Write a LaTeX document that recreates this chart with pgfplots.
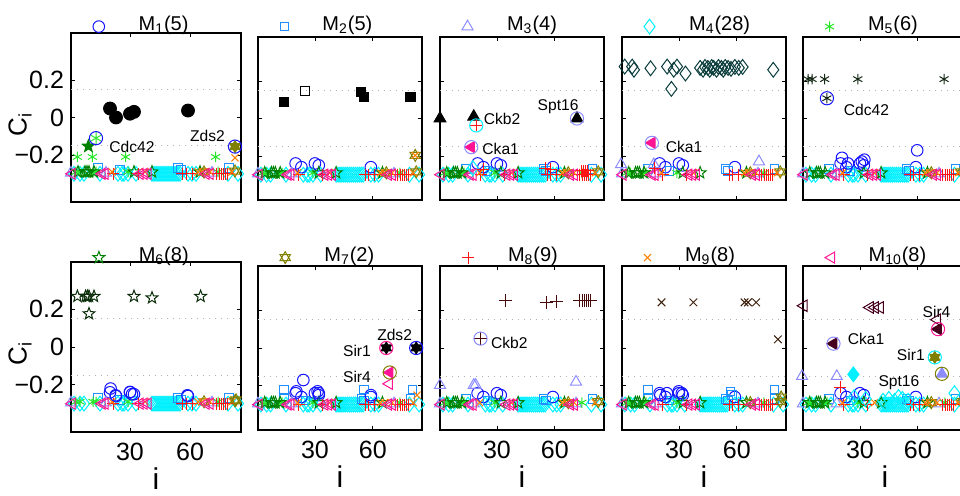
\documentclass[border=0pt]{standalone}
\usepackage{pgfplots}
\pgfplotsset{compat=1.18}
\usepackage{pgfplotstable}
\usepackage{fontspec}
\setmainfont{Liberation Sans}
\usetikzlibrary{plotmarks}

\definecolor{c1}{RGB}{20,20,255}
\definecolor{c2}{RGB}{30,144,255}
\definecolor{c3}{RGB}{140,140,255}
\definecolor{c4}{RGB}{0,240,255}
\definecolor{c5}{RGB}{40,230,40}
\definecolor{c6}{RGB}{0,128,0}
\definecolor{c7}{RGB}{128,128,0}
\definecolor{c8}{RGB}{255,20,20}
\definecolor{c9}{RGB}{255,128,0}
\definecolor{c10}{RGB}{255,20,147}

\pgfdeclareplotmark{pentagram}{%
 \pgfpathmoveto{\pgfpointpolar{90}{\pgfplotmarksize}}%
 \pgfpathlineto{\pgfpointpolar{126}{0.42\pgfplotmarksize}}%
 \pgfpathlineto{\pgfpointpolar{162}{\pgfplotmarksize}}%
 \pgfpathlineto{\pgfpointpolar{198}{0.42\pgfplotmarksize}}%
 \pgfpathlineto{\pgfpointpolar{234}{\pgfplotmarksize}}%
 \pgfpathlineto{\pgfpointpolar{270}{0.42\pgfplotmarksize}}%
 \pgfpathlineto{\pgfpointpolar{306}{\pgfplotmarksize}}%
 \pgfpathlineto{\pgfpointpolar{342}{0.42\pgfplotmarksize}}%
 \pgfpathlineto{\pgfpointpolar{18}{\pgfplotmarksize}}%
 \pgfpathlineto{\pgfpointpolar{54}{0.42\pgfplotmarksize}}%
 \pgfpathclose\pgfusepathqstroke}
\pgfdeclareplotmark{pentagram*}{%
 \pgfpathmoveto{\pgfpointpolar{90}{\pgfplotmarksize}}%
 \pgfpathlineto{\pgfpointpolar{126}{0.42\pgfplotmarksize}}%
 \pgfpathlineto{\pgfpointpolar{162}{\pgfplotmarksize}}%
 \pgfpathlineto{\pgfpointpolar{198}{0.42\pgfplotmarksize}}%
 \pgfpathlineto{\pgfpointpolar{234}{\pgfplotmarksize}}%
 \pgfpathlineto{\pgfpointpolar{270}{0.42\pgfplotmarksize}}%
 \pgfpathlineto{\pgfpointpolar{306}{\pgfplotmarksize}}%
 \pgfpathlineto{\pgfpointpolar{342}{0.42\pgfplotmarksize}}%
 \pgfpathlineto{\pgfpointpolar{18}{\pgfplotmarksize}}%
 \pgfpathlineto{\pgfpointpolar{54}{0.42\pgfplotmarksize}}%
 \pgfpathclose\pgfusepathqfillstroke}
\pgfdeclareplotmark{hexagram}{%
 \pgfpathmoveto{\pgfpointpolar{90}{\pgfplotmarksize}}%
 \pgfpathlineto{\pgfpointpolar{210}{\pgfplotmarksize}}%
 \pgfpathlineto{\pgfpointpolar{330}{\pgfplotmarksize}}%
 \pgfpathclose
 \pgfpathmoveto{\pgfpointpolar{270}{\pgfplotmarksize}}%
 \pgfpathlineto{\pgfpointpolar{30}{\pgfplotmarksize}}%
 \pgfpathlineto{\pgfpointpolar{150}{\pgfplotmarksize}}%
 \pgfpathclose\pgfusepathqstroke}
\pgfdeclareplotmark{hexagram*}{%
 \pgfpathmoveto{\pgfpointpolar{90}{\pgfplotmarksize}}%
 \pgfpathlineto{\pgfpointpolar{210}{\pgfplotmarksize}}%
 \pgfpathlineto{\pgfpointpolar{330}{\pgfplotmarksize}}%
 \pgfpathclose
 \pgfpathmoveto{\pgfpointpolar{270}{\pgfplotmarksize}}%
 \pgfpathlineto{\pgfpointpolar{30}{\pgfplotmarksize}}%
 \pgfpathlineto{\pgfpointpolar{150}{\pgfplotmarksize}}%
 \pgfpathclose\pgfusepathqfillstroke}

\newcommand{\tickf}{\fontsize{12.5}{14}\selectfont}
\newcommand{\ttlf}{\fontsize{10}{12}\selectfont}
\newcommand{\labf}{\fontsize{7.8}{9}\selectfont}
\newcommand{\ylabf}{\fontsize{13}{15}\selectfont}
\newcommand{\xlabf}{\fontsize{15}{17}\selectfont}

% baseline values of every module (x = protein index i, y = C_i)
\pgfplotstableread{
x y
20 -0.24
23 -0.26
30 -0.24
32 -0.25
59 -0.26
}\Bone
\pgfplotstableread{
x y
14 -0.27
25 -0.28
54 -0.27
55.5 -0.28
79.5 -0.27
}\Btwo
\pgfplotstableread{
x y
0.5 -0.295
18 -0.295
71 -0.295
}\Bthree
\pgfplotstableread{
x y
2 -0.3
5 -0.3
7 -0.3
15 -0.3
24 -0.3
26 -0.3
27 -0.3
29 -0.3
33 -0.3
41 -0.3
42 -0.3
43 -0.3
44 -0.3
45 -0.3
46 -0.3
47 -0.3
48 -0.3
49 -0.3
50 -0.3
51 -0.3
52 -0.3
53 -0.3
54 -0.3
55 -0.3
59 -0.3
61 -0.3
63 -0.3
79 -0.3
84 -0.3
}\Bfour
\pgfplotstableread{
x y
3 -0.29
5 -0.29
11.5 -0.29
13 -0.29
29 -0.29
74 -0.29
}\Bfive
\pgfplotstableread{
x y
4 -0.29
7.5 -0.29
8.5 -0.29
9.5 -0.29
12 -0.29
32 -0.29
41 -0.29
65 -0.29
}\Bsix
\pgfplotstableread{
x y
67 -0.29
82.5 -0.285
}\Bseven
\pgfplotstableread{
x y
21.5 -0.3
34 -0.3
56 -0.3
58 -0.3
61 -0.3
73 -0.3
74.5 -0.3
75.5 -0.3
76.5 -0.3
77.5 -0.3
78.5 -0.3
}\Beight
\pgfplotstableread{
x y
21 -0.29
37.5 -0.29
64 -0.29
66 -0.29
70 -0.29
81 -0.29
}\Bnine
\pgfplotstableread{
x y
1 -0.3
16 -0.3
17.5 -0.3
35 -0.3
37 -0.3
39 -0.3
68 -0.3
70 -0.3
}\Bten

\pgfplotsset{
 m1/.style={only marks, mark=o, mark size=2.9pt, color=c1},
 m2/.style={only marks, mark=square, mark size=2.1pt, color=c2},
 m3/.style={only marks, mark=triangle, mark size=3.2pt, color=c3},
 m4/.style={only marks, mark=diamond, mark size=3.7pt, color=c4},
 m5/.style={only marks, mark=asterisk, mark size=2.6pt, color=c5},
 m6/.style={only marks, mark=pentagram, mark size=3.1pt, color=c6},
 m7/.style={only marks, mark=hexagram, mark size=3pt, color=c7},
 m8/.style={only marks, mark=+, mark size=3pt, color=c8},
 m9/.style={only marks, mark=x, mark size=2.5pt, color=c9},
 m10/.style={only marks, mark=triangle, mark size=3.2pt, mark options={rotate=90}, color=c10},
 h1/.style={only marks, mark=*, mark size=3.2pt, color=black},
 h2/.style={only marks, mark=square*, mark size=2.3pt, color=black},
 h3/.style={only marks, mark=triangle*, mark size=3.4pt, color=black},
 h4/.style={only marks, mark=diamond, mark size=3.7pt, color={rgb,255:red,10;green,60;blue,60}},
 h5/.style={only marks, mark=asterisk, mark size=2.6pt, color={rgb,255:red,20;green,40;blue,20}},
 h6/.style={only marks, mark=pentagram, mark size=3.1pt, color={rgb,255:red,10;green,45;blue,10}},
 h7/.style={only marks, mark=hexagram*, mark size=3pt, color=black},
 h8/.style={only marks, mark=+, mark size=3.2pt, color={rgb,255:red,70;green,10;blue,10}},
 h9/.style={only marks, mark=x, mark size=2.7pt, color={rgb,255:red,60;green,30;blue,10}},
 h10/.style={only marks, mark=triangle, mark size=3.3pt, mark options={rotate=90}, color={rgb,255:red,70;green,0;blue,30}},
 ring/.style={only marks, mark=o, mark size=3.3pt},
 panel/.style={
  scale only axis, clip=false,
  xmin=0.5, xmax=85.5,
  xtick={30,60}, ytick={-0.2,0,0.2},
  xticklabels={,}, yticklabels={,,},
  tick align=inside, major tick length=2pt,
  tick style={black, line width=0.4pt},
  extra y ticks={-0.15,0.15}, extra y tick labels={},
  extra y tick style={grid=major, tick style={draw=none}},
  major grid style={gray!60, line width=0.6pt, dash pattern=on 0.6pt off 2.4pt},
  axis line style={black, line width=0.7pt},
  every axis plot/.append style={line width=0.5pt},
  /pgf/number format/assume math mode=true,
  tick label style={font=\tickf},
  xticklabel style={yshift=-2pt},
  legend image post style={yshift=-0.8pt},
  legend style={draw=none, fill=none, inner sep=0pt, outer sep=0pt, font=\ttlf,
    at={(axis description cs:0,1)}, anchor=west, xshift=11pt, yshift=6pt,
    /tikz/every odd column/.append style={column sep=15pt}},
 },
 col1/.style={width=85pt, ymin=-0.45, ymax=0.45, yticklabels={−0.2,0,0.2},
  ylabel={C\textsubscript{i}}, ylabel style={font=\ylabf, at={(axis description cs:-0.3,0.46)}, anchor=center}},
 colx/.style={width=82pt, ymin=-0.435, ymax=0.435},
 row1a/.style={height=84.5pt, legend style={yshift=-2pt}},
 row1b/.style={height=81.5pt},
 row2a/.style={height=85pt, xticklabels={30,60}, xlabel={i}, legend style={yshift=-3pt},
  xlabel style={font=\xlabf, at={(axis description cs:0.5,0)}, anchor=center, yshift=-23.5pt}},
 row2b/.style={height=82pt, xticklabels={30,60}, xlabel={i}, legend style={yshift=-1pt},
  xlabel style={font=\xlabf, at={(axis description cs:0.5,0)}, anchor=center, yshift=-23.5pt}},
}
\tikzset{lab/.style={font=\labf, inner sep=0pt}}

\newcommand{\drawbase}[1]{%
 \ifnum#1=4 \else\addplot[m4] table {\Bfour};\fi
 \ifnum#1=1 \else\addplot[m1] table {\Bone};\fi
 \ifnum#1=2 \else\addplot[m2] table {\Btwo};\fi
 \ifnum#1=3 \else\addplot[m3] table {\Bthree};\fi
 \ifnum#1=5 \else\addplot[m5] table {\Bfive};\fi
 \ifnum#1=6 \else\addplot[m6] table {\Bsix};\fi
 \ifnum#1=7 \else\addplot[m7] table {\Bseven};\fi
 \ifnum#1=8 \else\addplot[m8] table {\Beight};\fi
 \ifnum#1=9 \else\addplot[m9] table {\Bnine};\fi
 \ifnum#1=10 \else\addplot[m10] table {\Bten};\fi
}

\begin{document}
\begin{tikzpicture}
\useasboundingbox (0pt,0pt) rectangle (480pt,248pt);

% ---------------- M1
\begin{axis}[panel, col1, row1a, at={(35.5pt,231.5pt)}, anchor=north west]
\addlegendimage{m1}\addlegendentry{M\textsubscript{1}(5)}
\drawbase{1}
\addplot[m5] coordinates {(3.7,-0.21)(11.2,-0.21)(27.8,-0.21)(72.8,-0.21)};
\addplot[h1] coordinates {(20,0.048)(23,0.0)(30,0.02)(32,0.03)(59,0.037)};
\addplot[only marks, mark=pentagram*, mark size=3.2pt, color=c6] coordinates {(9.2,-0.153)};
\addplot[m5, mark size=3pt] coordinates {(13,-0.11)};
\addplot[ring, color=c1] coordinates {(13,-0.11)};
\addplot[m9] coordinates {(82.5,-0.215)};
\addplot[m7, mark=hexagram*] coordinates {(82.5,-0.155)};
\addplot[ring, color=c1] coordinates {(82.5,-0.155)};
\node[lab, anchor=west] at (axis cs:19.5,-0.155) {Cdc42};
\node[lab] at (axis cs:68.7,-0.096) {Zds2};
\end{axis}

% ---------------- M2
\begin{axis}[panel, colx, row1b, at={(129pt,229.5pt)}, anchor=north west]
\addlegendimage{m2}\addlegendentry{M\textsubscript{2}(5)}
\drawbase{2}
\addplot[h2] coordinates {(14,0.09)(54,0.14)(55.4,0.114)(79.5,0.114)};
\addplot[only marks, mark=square, mark size=2.3pt, color=black] coordinates {(25,0.147)};
\addplot[m7] coordinates {(82,-0.197)};
\addplot[m9] coordinates {(82,-0.197)};
\end{axis}

% ---------------- M3
\begin{axis}[panel, colx, row1b, at={(220pt,229.5pt)}, anchor=north west]
\addlegendimage{m3}\addlegendentry{M\textsubscript{3}(4)}
\drawbase{3}
\addplot[m4] coordinates {(17.5,-0.265)};
\addplot[m8] coordinates {(23,-0.27)(55,-0.265)(58,-0.27)(74,-0.28)(75,-0.28)(76,-0.28)(77,-0.28)};
\addplot[h3] coordinates {(0.5,0.0)(18,0.01)(71.5,0.0)};
\addplot[ring, color=c3] coordinates {(71.5,0.0)};
\addplot[m8] coordinates {(19.3,-0.037)};
\addplot[ring, color=c4] coordinates {(19.3,-0.037)};
\addplot[m10, mark=triangle*] coordinates {(16.7,-0.153)};
\addplot[ring, color=c3] coordinates {(16.7,-0.153)};
\node[lab, anchor=west] at (axis cs:23,-0.005) {Ckb2};
\node[lab, anchor=west] at (axis cs:22.3,-0.16) {Cka1};
\node[lab] at (axis cs:61.7,0.064) {Spt16};
\end{axis}

% ---------------- M4
\begin{axis}[panel, colx, row1b, at={(311pt,229.5pt)}, anchor=north west]
\addlegendimage{m4}\addlegendentry{M\textsubscript{4}(28)}
\drawbase{4}
\addplot[m3] coordinates {(0,-0.245)(17,-0.245)(71.5,-0.23)};
\addplot[m8] coordinates {(17.5,-0.265)};
\addplot[h4] coordinates {(1.9,0.277)(5.8,0.277)(6.7,0.26)(15.3,0.268)(23.9,0.277)(26.1,0.158)(27.3,0.26)(29,0.277)(33.4,0.24)
 (41,0.27)(42.5,0.26)(43.5,0.275)(45,0.27)(46,0.26)(47,0.275)(48,0.27)(49.5,0.26)(50.5,0.275)(52,0.27)(53,0.26)(54,0.275)(55.5,0.27)(57,0.265)(59,0.275)(61,0.27)(63,0.275)(78.9,0.26)};
\addplot[m10, mark=triangle*] coordinates {(16,-0.13)};
\addplot[ring, color=c3] coordinates {(16,-0.13)};
\node[lab, anchor=west] at (axis cs:23,-0.153) {Cka1};
\end{axis}

% ---------------- M5
\begin{axis}[panel, colx, row1b, at={(401.5pt,229.5pt)}, anchor=north west]
\addlegendimage{m5}\addlegendentry{M\textsubscript{5}(6)}
\drawbase{5}
\addplot[m1] coordinates {(20.7,-0.21)(23.8,-0.24)(31,-0.23)(32.3,-0.22)(59.7,-0.17)};
\addplot[h5] coordinates {(3.1,0.21)(5.2,0.21)(11.7,0.21)(28.9,0.21)(73.6,0.21)(12.9,0.108)};
\addplot[ring, color=c1] coordinates {(12.9,0.108)};
\node[lab, anchor=west] at (axis cs:21.5,0.046) {Cdc42};
\end{axis}

% ---------------- M6
\begin{axis}[panel, col1, row2a, at={(35.5pt,117pt)}, anchor=north west]
\addlegendimage{m6}\addlegendentry{M\textsubscript{6}(8)}
\drawbase{6}
\addplot[m1] coordinates {(20.3,-0.22)(22.8,-0.256)(30,-0.238)(31,-0.25)(58.7,-0.256)};
\addplot[m7] coordinates {(83,-0.28)};
\addplot[h6] coordinates {(3.7,0.268)(7.8,0.268)(8.7,0.268)(9.5,0.268)(12,0.268)(9.5,0.176)(32,0.268)(41,0.26)(65.3,0.268)};
\end{axis}

% ---------------- M7
\begin{axis}[panel, colx, row2b, at={(129pt,115pt)}, anchor=north west]
\addlegendimage{m7}\addlegendentry{M\textsubscript{7}(2)}
\drawbase{7}
\addplot[m1] coordinates {(24,-0.17)(20.4,-0.23)(31.4,-0.23)(32,-0.24)(59,-0.25)};
\addplot[m2] coordinates {(14,-0.22)(55.5,-0.22)(80.6,-0.22)};
\addplot[m9] coordinates {(82.9,-0.25)};
\addplot[h7] coordinates {(67,0)(82.5,0)};
\addplot[ring, color=c10] coordinates {(67,0)};
\addplot[ring, color=c1] coordinates {(82.5,0)};
\addplot[m10] coordinates {(68.5,-0.19)};
\addplot[m10, mark=triangle*] coordinates {(68.8,-0.13)};
\addplot[ring, color=c7] coordinates {(68.8,-0.13)};
\node[lab] at (axis cs:71.3,0.069) {Zds2};
\node[lab] at (axis cs:51.8,-0.016) {Sir1};
\node[lab] at (axis cs:51.8,-0.153) {Sir4};
\end{axis}

% ---------------- M8
\begin{axis}[panel, colx, row2b, at={(220pt,115pt)}, anchor=north west]
\addlegendimage{m8}\addlegendentry{M\textsubscript{8}(9)}
\drawbase{8}
\addplot[m3] coordinates {(0.5,-0.197)(18,-0.197)(19,-0.197)(71,-0.18)};
\addplot[h8] coordinates {(34.4,0.25)(55.8,0.24)(61,0.245)(73,0.25)(74.5,0.25)(75.5,0.25)(76.5,0.25)(77.5,0.25)(78.5,0.25)(21.5,0.05)};
\addplot[ring, color=c3] coordinates {(21.5,0.05)};
\node[lab, anchor=west] at (axis cs:26.8,0.028) {Ckb2};
\end{axis}

% ---------------- M9
\begin{axis}[panel, colx, row2b, at={(311pt,115pt)}, anchor=north west]
\addlegendimage{m9}\addlegendentry{M\textsubscript{9}(8)}
\drawbase{9}
\addplot[m2] coordinates {(14,-0.22)(56.7,-0.23)(57.5,-0.25)(79.6,-0.22)};
\addplot[m1] coordinates {(20.4,-0.25)(23.8,-0.24)(29.9,-0.23)(31.5,-0.24)};
\addplot[m7] coordinates {(83,-0.26)};
\addplot[h9] coordinates {(21,0.242)(37.5,0.242)(64,0.242)(65.8,0.242)(70,0.242)(81.3,0.046)};
\end{axis}

% ---------------- M10
\begin{axis}[panel, colx, row2b, at={(401.5pt,115pt)}, anchor=north west]
\addlegendimage{m10}\addlegendentry{M\textsubscript{10}(8)}
\drawbase{10}
\addplot[m4] coordinates {(27,-0.26)(33,-0.27)(42,-0.28)(45,-0.27)(48,-0.28)(50,-0.26)(52,-0.27)(55,-0.28)(79,-0.24)};
\addplot[m3] coordinates {(0,-0.15)(18,-0.15)};
\addplot[m8] coordinates {(19.8,-0.208)};
\addplot[m4, mark=diamond*] coordinates {(26.6,-0.14)};
\addplot[h10] coordinates {(0.9,0.224)(35.2,0.215)(37.8,0.215)(40.4,0.215)(70,0.15)};
\addplot[h10, mark=triangle*] coordinates {(16.3,0.023)(70.5,0.1)};
\addplot[ring, color=c3] coordinates {(16.3,0.023)};
\addplot[ring, color=c10] coordinates {(70.5,0.1)};
\addplot[m7, mark=hexagram*] coordinates {(68.8,-0.05)};
\addplot[ring, color=c4] coordinates {(68.8,-0.05)};
\addplot[m3, mark=triangle*] coordinates {(72.5,-0.137)};
\addplot[ring, color=c7] coordinates {(72.5,-0.137)};
\node[lab, anchor=west] at (axis cs:23.5,0.046) {Cka1};
\node[lab] at (axis cs:69.7,0.192) {Sir4};
\node[lab] at (axis cs:56.4,-0.037) {Sir1};
\node[lab] at (axis cs:50.2,-0.185) {Spt16};
\end{axis}
\end{tikzpicture}
\end{document}
